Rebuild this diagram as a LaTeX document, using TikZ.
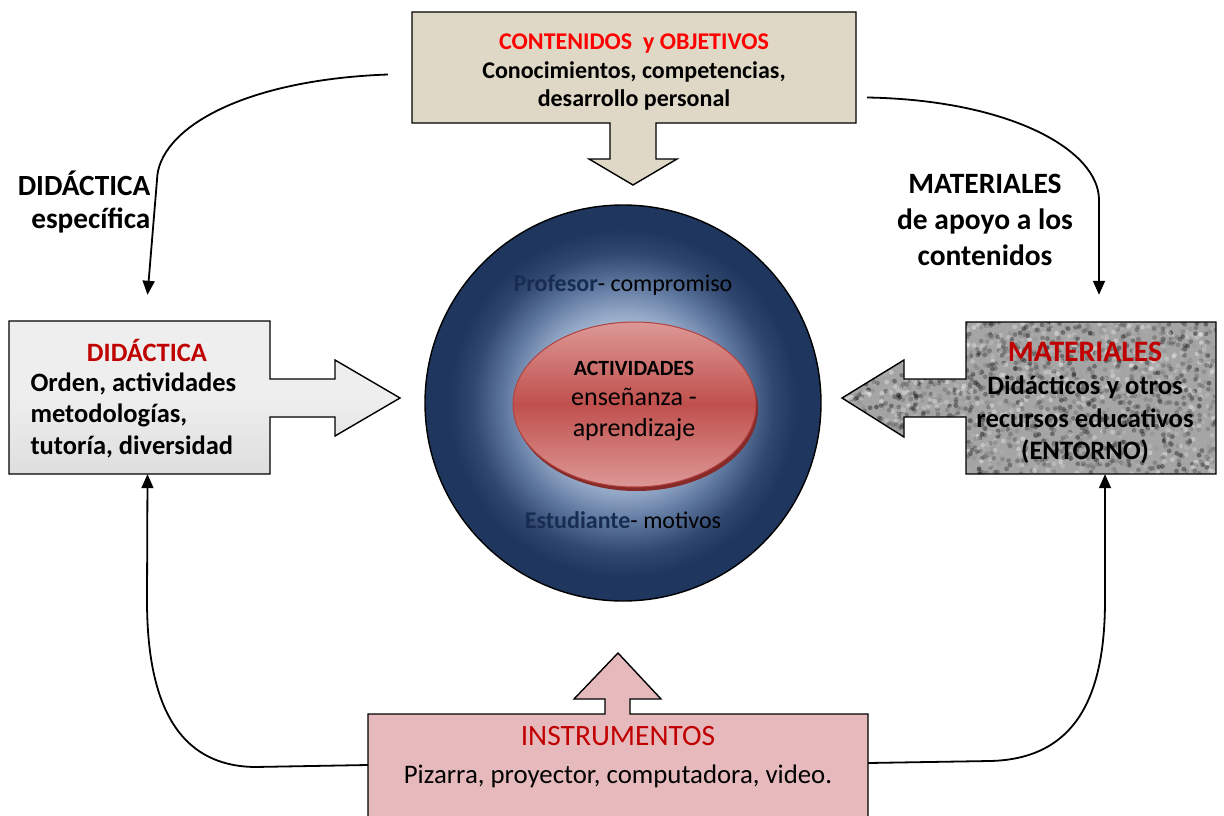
\documentclass[tikz,border=0pt]{standalone}
\usepackage{fontspec}
\setmainfont{Carlito}
\usetikzlibrary{arrows.meta,shapes.geometric,calc}
\definecolor{beigefill}{RGB}{224,216,198}
\definecolor{marblefill}{RGB}{238,238,238}
\definecolor{marbledark}{RGB}{222,222,222}
\definecolor{granitefill}{RGB}{165,165,165}
\definecolor{pinkfill}{RGB}{230,186,189}
\definecolor{darkred}{RGB}{192,0,0}
\definecolor{brightred}{RGB}{255,0,0}
\definecolor{navytxt}{RGB}{23,44,80}
\definecolor{cin}{RGB}{205,216,232}
\definecolor{clight}{RGB}{188,202,222}
\definecolor{cmid}{RGB}{145,166,197}
\definecolor{cmid2}{RGB}{95,120,160}
\definecolor{cdark}{RGB}{48,72,112}
\definecolor{cout}{RGB}{31,54,94}
\definecolor{ellred}{RGB}{192,80,77}
\definecolor{ellpink}{RGB}{220,152,150}
\definecolor{ellline}{RGB}{176,66,63}
\definecolor{ellshadow}{RGB}{135,42,40}
\pgfdeclareradialshading{hubshade}{\pgfpoint{0bp}{0bp}}{color(0bp)=(cin); color(8bp)=(clight); color(11.5bp)=(cmid); color(15bp)=(cmid2); color(19bp)=(cdark); color(22bp)=(cout); color(25bp)=(cout); color(50bp)=(cout)}
\begin{document}
\begin{tikzpicture}[x=1pt,y=-1pt,
  shapeline/.style={draw=black,line width=1.4pt,line join=miter},
  boxgeom/.style={rectangle,inner sep=0pt,minimum width=#1},
  conn/.style={line width=1.8pt,-{Triangle[length=14pt,width=12pt]}},
  bodybold/.style={font=\bfseries\fontsize{24}{31}\selectfont},
  lbl/.style={font=\bfseries\fontsize{29.3}{33}\selectfont}]
\useasboundingbox (0,0) rectangle (1224,816);
\fill[white] (0,0) rectangle (1224,816);

% ---------- top box with down arrow
\path[shapeline,fill=beigefill] (412,12) -- (856,12) -- (856,123) -- (656,123) -- (656,159) -- (677,159) -- (633,185) -- (589,159) -- (610,159) -- (610,123) -- (412,123) -- cycle;
\node[boxgeom=444pt,minimum height=111pt] (topbox) at (634,67.5) {};
\node[bodybold,align=center] (toptext) at (634,72) {\textcolor{brightred}{CONTENIDOS\ \ y OBJETIVOS}\\[-2pt]Conocimientos, competencias,\\[-3pt]desarrollo personal};

% ---------- left box with right arrow (marble)
\path[shapeline,top color=marblefill,bottom color=marbledark,middle color=marblefill] (9,321) -- (270,321) -- (270,379) -- (335,379) -- (335,360) -- (400,398) -- (335,436) -- (335,417) -- (270,417) -- (270,474) -- (9,474) -- cycle;
\node[boxgeom=261pt,minimum height=153pt] (did) at (139.5,397.5) {};
\node[font=\bfseries\fontsize{26.5}{30}\selectfont,text=darkred] (didtitle) at (147,350) {DIDÁCTICA};
\node[font=\bfseries\fontsize{26.5}{31.5}\selectfont,align=left,anchor=west] (didtext) at (27,415) {Orden, actividades\\metodologías,\\tutoría, diversidad};

% ---------- right box with left arrow (granite texture)
\begin{scope}
\path[clip] (966,322) -- (1216,322) -- (1216,474) -- (966,474) -- (966,417) -- (904,417) -- (904,437) -- (842,398) -- (904,360) -- (904,379) -- (966,379) -- cycle;
\fill[granitefill] (842,322) rectangle (1216,474);
\pgfmathsetseed{11}
\foreach \i in {1,...,2200}{
  \pgfmathsetmacro{\xx}{842+rnd*374}
  \pgfmathsetmacro{\yy}{322+rnd*152}
  \pgfmathsetmacro{\gg}{rnd*100}
  \fill[white!\gg!black,opacity=0.4] (\xx,\yy) circle (2.4pt);
}
\end{scope}
\path[shapeline] (966,322) -- (1216,322) -- (1216,474) -- (966,474) -- (966,417) -- (904,417) -- (904,437) -- (842,398) -- (904,360) -- (904,379) -- (966,379) -- cycle;
\node[boxgeom=250pt,minimum height=152pt] (mat) at (1091,398) {};
\node[font=\bfseries\fontsize{29.7}{32}\selectfont,text=darkred] (mattitle) at (1085,352) {MATERIALES};
\node[font=\bfseries\fontsize{26.6}{32.5}\selectfont,align=center] (mattext) at (1085,420) {Didácticos y otros\\recursos educativos\\(ENTORNO)};

% ---------- bottom box with up arrow
\path[shapeline,fill=pinkfill] (368,714) -- (605,714) -- (605,699) -- (574,699) -- (618,653) -- (661,699) -- (630,699) -- (630,714) -- (868,714) -- (868,840) -- (368,840) -- cycle;
\node[boxgeom=500pt,minimum height=126pt] (inst) at (618,777) {};
\node[font=\fontsize{29.5}{32}\selectfont,text=darkred] (insttitle) at (618,736) {INSTRUMENTOS};
\node[font=\fontsize{26.8}{30}\selectfont] (insttext) at (618,776) {Pizarra, proyector, computadora, video.};

% ---------- central circle
\node[circle,minimum size=396pt,inner sep=0pt,draw=black,line width=1.4pt,shading=hubshade] (hub) at (623,403) {};
\node[font=\fontsize{24}{28}\selectfont] (prof) at (623,285) {\textbf{\textcolor{navytxt}{Profesor}}- compromiso};
\node[font=\fontsize{24}{28}\selectfont] (est) at (623,520) {\textbf{\textcolor{navytxt}{Estudiante}}- motivos};

% ---------- inner ellipse
\fill[ellshadow] (636.5,408.5) ellipse [x radius=121.5pt, y radius=82.5pt];
\node[ellipse,minimum width=243pt,minimum height=165pt,inner sep=0pt,draw=ellline,line width=1pt,top color=ellpink,bottom color=ellpink,middle color=ellred] (act) at (634.5,404.5) {};
\node[font=\bfseries\fontsize{21.7}{24}\selectfont] (acttitle) at (634,368) {ACTIVIDADES};
\node[font=\fontsize{26}{31}\selectfont,align=center] (acttext) at (634,415) {enseñanza -\\aprendizaje};

% ---------- side labels
\node[lbl,align=right,anchor=east] (didlbl) at (154,202) {DIDÁCTICA\\específica};
\node[align=center,font=\bfseries\fontsize{29.5}{36}\selectfont] (matlbl) at (985,220) {MATERIALES\\de apoyo a los\\contenidos};

% ---------- connectors
\draw[conn] ([shift={(-24,7)}]topbox.west) .. controls (240,80) and (158,130) .. (157,180) -- ([shift={(8,-26)}]did.north);
\draw[conn] ([shift={(11,30)}]topbox.east) .. controls (1010,100) and (1099,150) .. (1099,200) -- ([shift={(8,-27)}]mat.north);
\draw[conn] ([shift={(0,-12)}]inst.west) -- (255,767) .. controls (170,766) and (147,690) .. (147,600) -- ([shift={(8,0)}]did.south);
\draw[conn] ([shift={(0,-14)}]inst.east) -- (990,761) .. controls (1080,759) and (1105,690) .. (1105,600) -- ([shift={(14,0)}]mat.south);
\end{tikzpicture}
\end{document}
